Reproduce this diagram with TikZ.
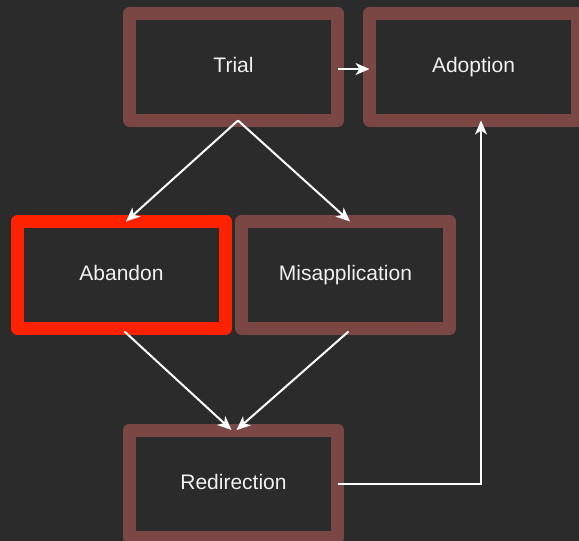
\documentclass[tikz,border=0pt]{standalone}
\usepackage{fontspec}
\setmainfont{Liberation Sans}
\usetikzlibrary{arrows.meta,calc}
\definecolor{bgdark}{RGB}{43,43,43}
\definecolor{stageedge}{RGB}{122,71,68}
\definecolor{dropred}{RGB}{255,34,0}
\definecolor{labelgrey}{RGB}{240,240,240}
\tikzset{
  box_n/.style = {rectangle, align=center, inner sep=0pt, outer sep=0pt,
    minimum width=208pt, minimum height=107pt, line width=13pt, line join=round,
    text height=15pt, text depth=3.6pt,
    draw=stageedge, fill=bgdark, text=labelgrey, font=\fontsize{21}{25}\selectfont},
  box_r/.style = {box_n, draw=dropred},
  flow/.style = {draw=white, line width=2pt, -{Stealth[length=14pt, width=12pt, inset=4pt]}},
}

\begin{document}
\begin{tikzpicture}[x=1pt, y=-1pt]
  \useasboundingbox (0,0) rectangle (579,541);
  \clip (0,0) rectangle (579,541);
  \fill[bgdark] (0,0) rectangle (579,541);

  \node [box_n] (trial)  at (233.5,67)  {Trial};
  \node [box_n] (adopt)  at (473.5,67)  {Adoption};
  \node [box_r] (aband)  at (121.5,275) {Abandon};
  \node [box_n] (misapp) at (345.5,275) {Misapplication};
  \node [box_n] (redir)  at (233.5,483.5) {Redirection};

  \draw [flow] ($(trial.east)+(0,2)$) -- ($(adopt.west)+(0,2)$);
  \draw [flow] ($(trial.south)+(4.5,0)$) -- ($(aband.north)+(4.5,0)$);
  \draw [flow] ($(trial.south)+(4.5,0)$) -- ($(misapp.north)+(4.5,0)$);
  \draw [flow] ($(aband.south)+(3,3)$) -- ($(redir.north)+(-2,0)$);
  \draw [flow] ($(misapp.south)+(3,3)$) -- ($(redir.north)+(3,0)$);
  \draw [flow] (redir.east) -| ($(adopt.south)+(7.5,0)$);
\end{tikzpicture}
\end{document}
